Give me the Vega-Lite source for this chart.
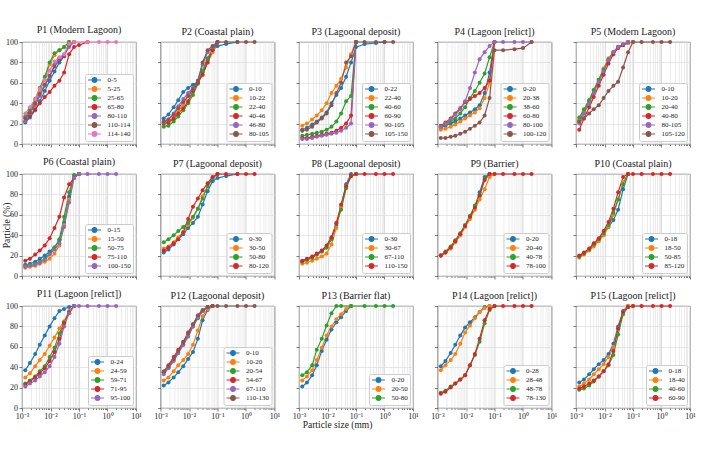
{
  "$schema": "https://vega.github.io/schema/vega-lite/v6.json",
  "background": "white",
  "padding": {"left": 1, "top": 24, "right": 5, "bottom": 5},
  "columns": 5,
  "spacing": {"row": 30, "column": 24.5},
  "bounds": "flush",
  "resolve": {"scale": {"color": "independent"}},
  "concat": [
    {
      "title": "P1 (Modern Lagoon)",
      "data": {"values": [
        {"s":"0-5","x":0.0013,"y":21},{"s":"0-5","x":0.0019,"y":26},{"s":"0-5","x":0.0029,"y":33},{"s":"0-5","x":0.0042,"y":42},{"s":"0-5","x":0.0063,"y":52},{"s":"0-5","x":0.0093,"y":62},{"s":"0-5","x":0.0138,"y":71},{"s":"0-5","x":0.0205,"y":80},{"s":"0-5","x":0.03,"y":86},{"s":"0-5","x":0.045,"y":100},
        {"s":"5-25","x":0.0013,"y":26},{"s":"5-25","x":0.0019,"y":33},{"s":"5-25","x":0.0029,"y":42},{"s":"5-25","x":0.0042,"y":52},{"s":"5-25","x":0.0063,"y":63},{"s":"5-25","x":0.0093,"y":78},{"s":"5-25","x":0.0138,"y":87},{"s":"5-25","x":0.0205,"y":92},{"s":"5-25","x":0.03,"y":95},{"s":"5-25","x":0.045,"y":100},
        {"s":"25-65","x":0.0013,"y":27},{"s":"25-65","x":0.0019,"y":34},{"s":"25-65","x":0.0029,"y":44},{"s":"25-65","x":0.0042,"y":55},{"s":"25-65","x":0.0063,"y":66},{"s":"25-65","x":0.0093,"y":80},{"s":"25-65","x":0.0138,"y":89},{"s":"25-65","x":0.0205,"y":92},{"s":"25-65","x":0.03,"y":95},{"s":"25-65","x":0.045,"y":100},
        {"s":"65-80","x":0.0013,"y":22},{"s":"65-80","x":0.0019,"y":28},{"s":"65-80","x":0.0029,"y":34},{"s":"65-80","x":0.0042,"y":40},{"s":"65-80","x":0.0063,"y":46},{"s":"65-80","x":0.0093,"y":51},{"s":"65-80","x":0.0138,"y":57},{"s":"65-80","x":0.0205,"y":62},{"s":"65-80","x":0.03,"y":70},{"s":"65-80","x":0.045,"y":88},{"s":"65-80","x":0.067,"y":95},{"s":"65-80","x":0.1,"y":97},{"s":"65-80","x":0.2,"y":100},
        {"s":"80-110","x":0.0013,"y":22},{"s":"80-110","x":0.0019,"y":30},{"s":"80-110","x":0.0029,"y":38},{"s":"80-110","x":0.0042,"y":47},{"s":"80-110","x":0.0063,"y":57},{"s":"80-110","x":0.0093,"y":66},{"s":"80-110","x":0.0138,"y":78},{"s":"80-110","x":0.0205,"y":84},{"s":"80-110","x":0.03,"y":88},{"s":"80-110","x":0.045,"y":95},{"s":"80-110","x":0.067,"y":100},
        {"s":"110-114","x":0.0013,"y":25},{"s":"110-114","x":0.0019,"y":31},{"s":"110-114","x":0.0029,"y":40},{"s":"110-114","x":0.0042,"y":49},{"s":"110-114","x":0.0063,"y":58},{"s":"110-114","x":0.0093,"y":67},{"s":"110-114","x":0.0138,"y":76},{"s":"110-114","x":0.0205,"y":82},{"s":"110-114","x":0.03,"y":86},{"s":"110-114","x":0.045,"y":97},{"s":"110-114","x":0.067,"y":100},
        {"s":"114-140","x":0.0013,"y":30},{"s":"114-140","x":0.0019,"y":36},{"s":"114-140","x":0.0029,"y":44},{"s":"114-140","x":0.0042,"y":54},{"s":"114-140","x":0.0063,"y":63},{"s":"114-140","x":0.0093,"y":72},{"s":"114-140","x":0.0138,"y":81},{"s":"114-140","x":0.0205,"y":85},{"s":"114-140","x":0.03,"y":88},{"s":"114-140","x":0.045,"y":98},{"s":"114-140","x":0.067,"y":100},{"s":"114-140","x":0.2,"y":100},{"s":"114-140","x":0.5,"y":100},{"s":"114-140","x":1,"y":100},{"s":"114-140","x":2,"y":100}
      ]},
      "encoding": {
        "x": {"field": "x", "type": "quantitative", "title": null, "scale": {"type": "log", "domain": [0.001, 10]},
          "axis": {"values": [0.001,0.002,0.003,0.004,0.005,0.006,0.007,0.008,0.009,0.01,0.02,0.03,0.04,0.05,0.06,0.07,0.08,0.09,0.1,0.2,0.3,0.4,0.5,0.6,0.7,0.8,0.9,1,2,3,4,5,6,7,8,9,10], "labels": false,
            "gridColor": {"condition": {"test": "abs(log(datum.value)/LN10-round(log(datum.value)/LN10))<0.01", "value": "#cdcdcd"}, "value": "#e4e4e4"},
            "tickSize": {"condition": {"test": "abs(log(datum.value)/LN10-round(log(datum.value)/LN10))<0.01", "value": 3}, "value": 1.5}}},
        "y": {"field": "y", "type": "quantitative", "title": null, "scale": {"domain": [0, 100], "nice": false}, "axis": {"values": [0,20,40,60,80,100]}},
        "color": {"field": "s", "type": "nominal", "scale": {"domain": ["0-5","5-25","25-65","65-80","80-110","110-114","114-140"]}, "legend": {"title": null}}
      },
      "layer": [{"mark": "line"}, {"mark": "point"}]
    },
    {
      "title": "P2 (Coastal plain)",
      "data": {"values": [
        {"s":"0-10","x":0.0013,"y":25},{"s":"0-10","x":0.0019,"y":29},{"s":"0-10","x":0.0029,"y":36},{"s":"0-10","x":0.0042,"y":43},{"s":"0-10","x":0.0063,"y":51},{"s":"0-10","x":0.0093,"y":55},{"s":"0-10","x":0.0138,"y":58},{"s":"0-10","x":0.0205,"y":61},{"s":"0-10","x":0.03,"y":70},{"s":"0-10","x":0.045,"y":82},{"s":"0-10","x":0.067,"y":92},{"s":"0-10","x":0.1,"y":96},{"s":"0-10","x":0.2,"y":98},{"s":"0-10","x":0.5,"y":100},
        {"s":"10-22","x":0.0013,"y":20},{"s":"10-22","x":0.0019,"y":22},{"s":"10-22","x":0.0029,"y":26},{"s":"10-22","x":0.0042,"y":32},{"s":"10-22","x":0.0063,"y":39},{"s":"10-22","x":0.0093,"y":47},{"s":"10-22","x":0.0138,"y":54},{"s":"10-22","x":0.0205,"y":61},{"s":"10-22","x":0.03,"y":68},{"s":"10-22","x":0.045,"y":80},{"s":"10-22","x":0.067,"y":90},{"s":"10-22","x":0.1,"y":100},
        {"s":"22-40","x":0.0013,"y":17},{"s":"22-40","x":0.0019,"y":18},{"s":"22-40","x":0.0029,"y":22},{"s":"22-40","x":0.0042,"y":27},{"s":"22-40","x":0.0063,"y":33},{"s":"22-40","x":0.0093,"y":40},{"s":"22-40","x":0.0138,"y":48},{"s":"22-40","x":0.0205,"y":59},{"s":"22-40","x":0.03,"y":72},{"s":"22-40","x":0.045,"y":84},{"s":"22-40","x":0.067,"y":93},{"s":"22-40","x":0.1,"y":100},
        {"s":"40-46","x":0.0013,"y":20},{"s":"40-46","x":0.0019,"y":21},{"s":"40-46","x":0.0029,"y":25},{"s":"40-46","x":0.0042,"y":30},{"s":"40-46","x":0.0063,"y":35},{"s":"40-46","x":0.0093,"y":42},{"s":"40-46","x":0.0138,"y":52},{"s":"40-46","x":0.0205,"y":60},{"s":"40-46","x":0.03,"y":68},{"s":"40-46","x":0.045,"y":80},{"s":"40-46","x":0.067,"y":92},{"s":"40-46","x":0.1,"y":100},
        {"s":"46-80","x":0.0013,"y":21},{"s":"46-80","x":0.0019,"y":24},{"s":"46-80","x":0.0029,"y":30},{"s":"46-80","x":0.0042,"y":37},{"s":"46-80","x":0.0063,"y":44},{"s":"46-80","x":0.0093,"y":50},{"s":"46-80","x":0.0138,"y":55},{"s":"46-80","x":0.0205,"y":62},{"s":"46-80","x":0.03,"y":78},{"s":"46-80","x":0.045,"y":90},{"s":"46-80","x":0.067,"y":95},{"s":"46-80","x":0.1,"y":100},
        {"s":"80-105","x":0.0013,"y":22},{"s":"80-105","x":0.0019,"y":24},{"s":"80-105","x":0.0029,"y":29},{"s":"80-105","x":0.0042,"y":35},{"s":"80-105","x":0.0063,"y":41},{"s":"80-105","x":0.0093,"y":47},{"s":"80-105","x":0.0138,"y":54},{"s":"80-105","x":0.0205,"y":62},{"s":"80-105","x":0.03,"y":80},{"s":"80-105","x":0.045,"y":92},{"s":"80-105","x":0.067,"y":96},{"s":"80-105","x":0.1,"y":100},{"s":"80-105","x":0.2,"y":100},{"s":"80-105","x":0.5,"y":100},{"s":"80-105","x":1,"y":100},{"s":"80-105","x":2,"y":100}
      ]},
      "encoding": {
        "x": {"field": "x", "type": "quantitative", "title": null, "scale": {"type": "log", "domain": [0.001, 10]},
          "axis": {"values": [0.001,0.002,0.003,0.004,0.005,0.006,0.007,0.008,0.009,0.01,0.02,0.03,0.04,0.05,0.06,0.07,0.08,0.09,0.1,0.2,0.3,0.4,0.5,0.6,0.7,0.8,0.9,1,2,3,4,5,6,7,8,9,10], "labels": false,
            "gridColor": {"condition": {"test": "abs(log(datum.value)/LN10-round(log(datum.value)/LN10))<0.01", "value": "#cdcdcd"}, "value": "#e4e4e4"},
            "tickSize": {"condition": {"test": "abs(log(datum.value)/LN10-round(log(datum.value)/LN10))<0.01", "value": 3}, "value": 1.5}}},
        "y": {"field": "y", "type": "quantitative", "title": null, "scale": {"domain": [0, 100], "nice": false}, "axis": {"values": [0,20,40,60,80,100], "labels": false}},
        "color": {"field": "s", "type": "nominal", "scale": {"domain": ["0-10","10-22","22-40","40-46","46-80","80-105"]}, "legend": {"title": null}}
      },
      "layer": [{"mark": "line"}, {"mark": "point"}]
    },
    {
      "title": "P3 (Lagoonal deposit)",
      "data": {"values": [
        {"s":"0-22","x":0.0013,"y":14},{"s":"0-22","x":0.0019,"y":16},{"s":"0-22","x":0.0029,"y":19},{"s":"0-22","x":0.0042,"y":22},{"s":"0-22","x":0.0063,"y":26},{"s":"0-22","x":0.0093,"y":31},{"s":"0-22","x":0.0138,"y":40},{"s":"0-22","x":0.0205,"y":48},{"s":"0-22","x":0.03,"y":55},{"s":"0-22","x":0.045,"y":66},{"s":"0-22","x":0.067,"y":80},{"s":"0-22","x":0.1,"y":95},{"s":"0-22","x":0.2,"y":98},{"s":"0-22","x":0.5,"y":99},{"s":"0-22","x":1,"y":100},
        {"s":"22-40","x":0.0013,"y":18},{"s":"22-40","x":0.0019,"y":20},{"s":"22-40","x":0.0029,"y":24},{"s":"22-40","x":0.0042,"y":28},{"s":"22-40","x":0.0063,"y":33},{"s":"22-40","x":0.0093,"y":40},{"s":"22-40","x":0.0138,"y":50},{"s":"22-40","x":0.0205,"y":57},{"s":"22-40","x":0.03,"y":64},{"s":"22-40","x":0.045,"y":75},{"s":"22-40","x":0.067,"y":88},{"s":"22-40","x":0.1,"y":100},
        {"s":"40-60","x":0.0013,"y":8},{"s":"40-60","x":0.0019,"y":9},{"s":"40-60","x":0.0029,"y":10},{"s":"40-60","x":0.0042,"y":11},{"s":"40-60","x":0.0063,"y":12},{"s":"40-60","x":0.0093,"y":14},{"s":"40-60","x":0.0138,"y":17},{"s":"40-60","x":0.0205,"y":22},{"s":"40-60","x":0.03,"y":30},{"s":"40-60","x":0.045,"y":42},{"s":"40-60","x":0.067,"y":47},{"s":"40-60","x":0.1,"y":100},
        {"s":"60-90","x":0.0013,"y":6},{"s":"60-90","x":0.0019,"y":6},{"s":"60-90","x":0.0029,"y":7},{"s":"60-90","x":0.0042,"y":8},{"s":"60-90","x":0.0063,"y":9},{"s":"60-90","x":0.0093,"y":10},{"s":"60-90","x":0.0138,"y":11},{"s":"60-90","x":0.0205,"y":13},{"s":"60-90","x":0.03,"y":16},{"s":"60-90","x":0.045,"y":20},{"s":"60-90","x":0.067,"y":28},{"s":"60-90","x":0.1,"y":100},
        {"s":"90-105","x":0.0013,"y":5},{"s":"90-105","x":0.0019,"y":5},{"s":"90-105","x":0.0029,"y":6},{"s":"90-105","x":0.0042,"y":7},{"s":"90-105","x":0.0063,"y":8},{"s":"90-105","x":0.0093,"y":9},{"s":"90-105","x":0.0138,"y":10},{"s":"90-105","x":0.0205,"y":11},{"s":"90-105","x":0.03,"y":13},{"s":"90-105","x":0.045,"y":16},{"s":"90-105","x":0.067,"y":20},{"s":"90-105","x":0.1,"y":100},
        {"s":"105-150","x":0.0013,"y":13},{"s":"105-150","x":0.0019,"y":14},{"s":"105-150","x":0.0029,"y":17},{"s":"105-150","x":0.0042,"y":21},{"s":"105-150","x":0.0063,"y":25},{"s":"105-150","x":0.0093,"y":30},{"s":"105-150","x":0.0138,"y":38},{"s":"105-150","x":0.0205,"y":50},{"s":"105-150","x":0.03,"y":60},{"s":"105-150","x":0.045,"y":80},{"s":"105-150","x":0.067,"y":86},{"s":"105-150","x":0.1,"y":100},{"s":"105-150","x":0.2,"y":100},{"s":"105-150","x":0.5,"y":100},{"s":"105-150","x":1,"y":100},{"s":"105-150","x":2,"y":100}
      ]},
      "encoding": {
        "x": {"field": "x", "type": "quantitative", "title": null, "scale": {"type": "log", "domain": [0.001, 10]},
          "axis": {"values": [0.001,0.002,0.003,0.004,0.005,0.006,0.007,0.008,0.009,0.01,0.02,0.03,0.04,0.05,0.06,0.07,0.08,0.09,0.1,0.2,0.3,0.4,0.5,0.6,0.7,0.8,0.9,1,2,3,4,5,6,7,8,9,10], "labels": false,
            "gridColor": {"condition": {"test": "abs(log(datum.value)/LN10-round(log(datum.value)/LN10))<0.01", "value": "#cdcdcd"}, "value": "#e4e4e4"},
            "tickSize": {"condition": {"test": "abs(log(datum.value)/LN10-round(log(datum.value)/LN10))<0.01", "value": 3}, "value": 1.5}}},
        "y": {"field": "y", "type": "quantitative", "title": null, "scale": {"domain": [0, 100], "nice": false}, "axis": {"values": [0,20,40,60,80,100], "labels": false}},
        "color": {"field": "s", "type": "nominal", "scale": {"domain": ["0-22","22-40","40-60","60-90","90-105","105-150"]}, "legend": {"title": null}}
      },
      "layer": [{"mark": "line"}, {"mark": "point"}]
    },
    {
      "title": "P4 (Lagoon [relict])",
      "data": {"values": [
        {"s":"0-20","x":0.0013,"y":16},{"s":"0-20","x":0.0019,"y":18},{"s":"0-20","x":0.0029,"y":20},{"s":"0-20","x":0.0042,"y":22},{"s":"0-20","x":0.0063,"y":25},{"s":"0-20","x":0.0093,"y":28},{"s":"0-20","x":0.0138,"y":31},{"s":"0-20","x":0.0205,"y":34},{"s":"0-20","x":0.03,"y":38},{"s":"0-20","x":0.045,"y":50},{"s":"0-20","x":0.067,"y":70},{"s":"0-20","x":0.1,"y":100},
        {"s":"20-38","x":0.0013,"y":14},{"s":"20-38","x":0.0019,"y":15},{"s":"20-38","x":0.0029,"y":17},{"s":"20-38","x":0.0042,"y":19},{"s":"20-38","x":0.0063,"y":22},{"s":"20-38","x":0.0093,"y":25},{"s":"20-38","x":0.0138,"y":28},{"s":"20-38","x":0.0205,"y":31},{"s":"20-38","x":0.03,"y":35},{"s":"20-38","x":0.045,"y":45},{"s":"20-38","x":0.067,"y":60},{"s":"20-38","x":0.1,"y":100},
        {"s":"38-60","x":0.0013,"y":17},{"s":"38-60","x":0.0019,"y":19},{"s":"38-60","x":0.0029,"y":22},{"s":"38-60","x":0.0042,"y":25},{"s":"38-60","x":0.0063,"y":30},{"s":"38-60","x":0.0093,"y":36},{"s":"38-60","x":0.0138,"y":45},{"s":"38-60","x":0.0205,"y":52},{"s":"38-60","x":0.03,"y":60},{"s":"38-60","x":0.045,"y":69},{"s":"38-60","x":0.067,"y":85},{"s":"38-60","x":0.1,"y":100},
        {"s":"60-80","x":0.0013,"y":18},{"s":"60-80","x":0.0019,"y":21},{"s":"60-80","x":0.0029,"y":25},{"s":"60-80","x":0.0042,"y":30},{"s":"60-80","x":0.0063,"y":35},{"s":"60-80","x":0.0093,"y":41},{"s":"60-80","x":0.0138,"y":44},{"s":"60-80","x":0.0205,"y":47},{"s":"60-80","x":0.03,"y":50},{"s":"60-80","x":0.045,"y":55},{"s":"60-80","x":0.067,"y":62},{"s":"60-80","x":0.1,"y":100},
        {"s":"80-100","x":0.0013,"y":17},{"s":"80-100","x":0.0019,"y":20},{"s":"80-100","x":0.0029,"y":24},{"s":"80-100","x":0.0042,"y":29},{"s":"80-100","x":0.0063,"y":34},{"s":"80-100","x":0.0093,"y":42},{"s":"80-100","x":0.0138,"y":55},{"s":"80-100","x":0.0205,"y":70},{"s":"80-100","x":0.03,"y":83},{"s":"80-100","x":0.045,"y":90},{"s":"80-100","x":0.067,"y":96},{"s":"80-100","x":0.1,"y":100},{"s":"80-100","x":0.2,"y":100},{"s":"80-100","x":0.5,"y":100},{"s":"80-100","x":1,"y":100},{"s":"80-100","x":2,"y":100},
        {"s":"100-120","x":0.0013,"y":6},{"s":"100-120","x":0.0019,"y":6},{"s":"100-120","x":0.0029,"y":7},{"s":"100-120","x":0.0042,"y":8},{"s":"100-120","x":0.0063,"y":10},{"s":"100-120","x":0.0093,"y":12},{"s":"100-120","x":0.0138,"y":15},{"s":"100-120","x":0.0205,"y":18},{"s":"100-120","x":0.03,"y":21},{"s":"100-120","x":0.045,"y":28},{"s":"100-120","x":0.067,"y":45},{"s":"100-120","x":0.1,"y":92},{"s":"100-120","x":0.2,"y":92},{"s":"100-120","x":0.5,"y":93},{"s":"100-120","x":1,"y":94},{"s":"100-120","x":2,"y":100}
      ]},
      "encoding": {
        "x": {"field": "x", "type": "quantitative", "title": null, "scale": {"type": "log", "domain": [0.001, 10]},
          "axis": {"values": [0.001,0.002,0.003,0.004,0.005,0.006,0.007,0.008,0.009,0.01,0.02,0.03,0.04,0.05,0.06,0.07,0.08,0.09,0.1,0.2,0.3,0.4,0.5,0.6,0.7,0.8,0.9,1,2,3,4,5,6,7,8,9,10], "labels": false,
            "gridColor": {"condition": {"test": "abs(log(datum.value)/LN10-round(log(datum.value)/LN10))<0.01", "value": "#cdcdcd"}, "value": "#e4e4e4"},
            "tickSize": {"condition": {"test": "abs(log(datum.value)/LN10-round(log(datum.value)/LN10))<0.01", "value": 3}, "value": 1.5}}},
        "y": {"field": "y", "type": "quantitative", "title": null, "scale": {"domain": [0, 100], "nice": false}, "axis": {"values": [0,20,40,60,80,100], "labels": false}},
        "color": {"field": "s", "type": "nominal", "scale": {"domain": ["0-20","20-38","38-60","60-80","80-100","100-120"]}, "legend": {"title": null}}
      },
      "layer": [{"mark": "line"}, {"mark": "point"}]
    },
    {
      "title": "P5 (Modern Lagoon)",
      "data": {"values": [
        {"s":"0-10","x":0.0013,"y":22},{"s":"0-10","x":0.0019,"y":32},{"s":"0-10","x":0.0029,"y":42},{"s":"0-10","x":0.0042,"y":52},{"s":"0-10","x":0.0063,"y":62},{"s":"0-10","x":0.0093,"y":72},{"s":"0-10","x":0.0138,"y":82},{"s":"0-10","x":0.0205,"y":90},{"s":"0-10","x":0.03,"y":95},{"s":"0-10","x":0.045,"y":97},{"s":"0-10","x":0.067,"y":99},{"s":"0-10","x":0.1,"y":100},
        {"s":"10-20","x":0.0013,"y":24},{"s":"10-20","x":0.0019,"y":33},{"s":"10-20","x":0.0029,"y":43},{"s":"10-20","x":0.0042,"y":53},{"s":"10-20","x":0.0063,"y":63},{"s":"10-20","x":0.0093,"y":74},{"s":"10-20","x":0.0138,"y":84},{"s":"10-20","x":0.0205,"y":90},{"s":"10-20","x":0.03,"y":94},{"s":"10-20","x":0.045,"y":97},{"s":"10-20","x":0.067,"y":99},{"s":"10-20","x":0.1,"y":100},
        {"s":"20-40","x":0.0013,"y":26},{"s":"20-40","x":0.0019,"y":34},{"s":"20-40","x":0.0029,"y":43},{"s":"20-40","x":0.0042,"y":53},{"s":"20-40","x":0.0063,"y":63},{"s":"20-40","x":0.0093,"y":73},{"s":"20-40","x":0.0138,"y":83},{"s":"20-40","x":0.0205,"y":90},{"s":"20-40","x":0.03,"y":95},{"s":"20-40","x":0.045,"y":97},{"s":"20-40","x":0.067,"y":100},
        {"s":"40-80","x":0.0013,"y":14},{"s":"40-80","x":0.0019,"y":25},{"s":"40-80","x":0.0029,"y":36},{"s":"40-80","x":0.0042,"y":46},{"s":"40-80","x":0.0063,"y":57},{"s":"40-80","x":0.0093,"y":68},{"s":"40-80","x":0.0138,"y":79},{"s":"40-80","x":0.0205,"y":88},{"s":"40-80","x":0.03,"y":94},{"s":"40-80","x":0.045,"y":97},{"s":"40-80","x":0.067,"y":100},
        {"s":"80-105","x":0.0013,"y":20},{"s":"80-105","x":0.0019,"y":30},{"s":"80-105","x":0.0029,"y":40},{"s":"80-105","x":0.0042,"y":50},{"s":"80-105","x":0.0063,"y":61},{"s":"80-105","x":0.0093,"y":71},{"s":"80-105","x":0.0138,"y":82},{"s":"80-105","x":0.0205,"y":90},{"s":"80-105","x":0.03,"y":95},{"s":"80-105","x":0.045,"y":98},{"s":"80-105","x":0.067,"y":100},
        {"s":"105-120","x":0.0013,"y":22},{"s":"105-120","x":0.0019,"y":25},{"s":"105-120","x":0.0029,"y":30},{"s":"105-120","x":0.0042,"y":34},{"s":"105-120","x":0.0063,"y":38},{"s":"105-120","x":0.0093,"y":45},{"s":"105-120","x":0.0138,"y":52},{"s":"105-120","x":0.0205,"y":57},{"s":"105-120","x":0.03,"y":61},{"s":"105-120","x":0.045,"y":75},{"s":"105-120","x":0.067,"y":90},{"s":"105-120","x":0.1,"y":100},{"s":"105-120","x":0.2,"y":100},{"s":"105-120","x":0.5,"y":100},{"s":"105-120","x":1,"y":100},{"s":"105-120","x":2,"y":100}
      ]},
      "encoding": {
        "x": {"field": "x", "type": "quantitative", "title": null, "scale": {"type": "log", "domain": [0.001, 10]},
          "axis": {"values": [0.001,0.002,0.003,0.004,0.005,0.006,0.007,0.008,0.009,0.01,0.02,0.03,0.04,0.05,0.06,0.07,0.08,0.09,0.1,0.2,0.3,0.4,0.5,0.6,0.7,0.8,0.9,1,2,3,4,5,6,7,8,9,10], "labels": false,
            "gridColor": {"condition": {"test": "abs(log(datum.value)/LN10-round(log(datum.value)/LN10))<0.01", "value": "#cdcdcd"}, "value": "#e4e4e4"},
            "tickSize": {"condition": {"test": "abs(log(datum.value)/LN10-round(log(datum.value)/LN10))<0.01", "value": 3}, "value": 1.5}}},
        "y": {"field": "y", "type": "quantitative", "title": null, "scale": {"domain": [0, 100], "nice": false}, "axis": {"values": [0,20,40,60,80,100], "labels": false}},
        "color": {"field": "s", "type": "nominal", "scale": {"domain": ["0-10","10-20","20-40","40-80","80-105","105-120"]}, "legend": {"title": null}}
      },
      "layer": [{"mark": "line"}, {"mark": "point"}]
    },
    {
      "title": "P6 (Coastal plain)",
      "data": {"values": [
        {"s":"0-15","x":0.0013,"y":11},{"s":"0-15","x":0.0019,"y":12},{"s":"0-15","x":0.0029,"y":14},{"s":"0-15","x":0.0042,"y":17},{"s":"0-15","x":0.0063,"y":20},{"s":"0-15","x":0.0093,"y":24},{"s":"0-15","x":0.0138,"y":28},{"s":"0-15","x":0.0205,"y":35},{"s":"0-15","x":0.03,"y":52},{"s":"0-15","x":0.045,"y":78},{"s":"0-15","x":0.067,"y":98},{"s":"0-15","x":0.1,"y":100},
        {"s":"15-50","x":0.0013,"y":8},{"s":"15-50","x":0.0019,"y":9},{"s":"15-50","x":0.0029,"y":10},{"s":"15-50","x":0.0042,"y":12},{"s":"15-50","x":0.0063,"y":14},{"s":"15-50","x":0.0093,"y":17},{"s":"15-50","x":0.0138,"y":22},{"s":"15-50","x":0.0205,"y":30},{"s":"15-50","x":0.03,"y":50},{"s":"15-50","x":0.045,"y":75},{"s":"15-50","x":0.067,"y":97},{"s":"15-50","x":0.1,"y":100},
        {"s":"50-75","x":0.0013,"y":10},{"s":"50-75","x":0.0019,"y":11},{"s":"50-75","x":0.0029,"y":12},{"s":"50-75","x":0.0042,"y":14},{"s":"50-75","x":0.0063,"y":17},{"s":"50-75","x":0.0093,"y":22},{"s":"50-75","x":0.0138,"y":28},{"s":"50-75","x":0.0205,"y":36},{"s":"50-75","x":0.03,"y":58},{"s":"50-75","x":0.045,"y":82},{"s":"50-75","x":0.067,"y":99},{"s":"50-75","x":0.1,"y":100},
        {"s":"75-110","x":0.0013,"y":15},{"s":"75-110","x":0.0019,"y":17},{"s":"75-110","x":0.0029,"y":21},{"s":"75-110","x":0.0042,"y":25},{"s":"75-110","x":0.0063,"y":30},{"s":"75-110","x":0.0093,"y":37},{"s":"75-110","x":0.0138,"y":47},{"s":"75-110","x":0.0205,"y":58},{"s":"75-110","x":0.03,"y":77},{"s":"75-110","x":0.045,"y":90},{"s":"75-110","x":0.067,"y":96},{"s":"75-110","x":0.1,"y":100},
        {"s":"100-150","x":0.0013,"y":9},{"s":"100-150","x":0.0019,"y":10},{"s":"100-150","x":0.0029,"y":11},{"s":"100-150","x":0.0042,"y":13},{"s":"100-150","x":0.0063,"y":16},{"s":"100-150","x":0.0093,"y":21},{"s":"100-150","x":0.0138,"y":26},{"s":"100-150","x":0.0205,"y":32},{"s":"100-150","x":0.03,"y":48},{"s":"100-150","x":0.045,"y":72},{"s":"100-150","x":0.067,"y":96},{"s":"100-150","x":0.1,"y":100},{"s":"100-150","x":0.2,"y":100},{"s":"100-150","x":0.5,"y":100},{"s":"100-150","x":1,"y":100},{"s":"100-150","x":2,"y":100}
      ]},
      "encoding": {
        "x": {"field": "x", "type": "quantitative", "title": null, "scale": {"type": "log", "domain": [0.001, 10]},
          "axis": {"values": [0.001,0.002,0.003,0.004,0.005,0.006,0.007,0.008,0.009,0.01,0.02,0.03,0.04,0.05,0.06,0.07,0.08,0.09,0.1,0.2,0.3,0.4,0.5,0.6,0.7,0.8,0.9,1,2,3,4,5,6,7,8,9,10], "labels": false,
            "gridColor": {"condition": {"test": "abs(log(datum.value)/LN10-round(log(datum.value)/LN10))<0.01", "value": "#cdcdcd"}, "value": "#e4e4e4"},
            "tickSize": {"condition": {"test": "abs(log(datum.value)/LN10-round(log(datum.value)/LN10))<0.01", "value": 3}, "value": 1.5}}},
        "y": {"field": "y", "type": "quantitative", "title": "Particle (%)", "scale": {"domain": [0, 100], "nice": false}, "axis": {"values": [0,20,40,60,80,100], "titlePadding": -6}},
        "color": {"field": "s", "type": "nominal", "scale": {"domain": ["0-15","15-50","50-75","75-110","100-150"]}, "legend": {"title": null}}
      },
      "layer": [{"mark": "line"}, {"mark": "point"}]
    },
    {
      "title": "P7 (Lagoonal deposit)",
      "data": {"values": [
        {"s":"0-30","x":0.0013,"y":23},{"s":"0-30","x":0.0019,"y":26},{"s":"0-30","x":0.0029,"y":31},{"s":"0-30","x":0.0042,"y":36},{"s":"0-30","x":0.0063,"y":41},{"s":"0-30","x":0.0093,"y":47},{"s":"0-30","x":0.0138,"y":52},{"s":"0-30","x":0.0205,"y":58},{"s":"0-30","x":0.03,"y":70},{"s":"0-30","x":0.045,"y":83},{"s":"0-30","x":0.067,"y":93},{"s":"0-30","x":0.1,"y":96},{"s":"0-30","x":0.2,"y":98},{"s":"0-30","x":0.5,"y":100},
        {"s":"30-50","x":0.0013,"y":27},{"s":"30-50","x":0.0019,"y":29},{"s":"30-50","x":0.0029,"y":33},{"s":"30-50","x":0.0042,"y":38},{"s":"30-50","x":0.0063,"y":43},{"s":"30-50","x":0.0093,"y":50},{"s":"30-50","x":0.0138,"y":57},{"s":"30-50","x":0.0205,"y":66},{"s":"30-50","x":0.03,"y":78},{"s":"30-50","x":0.045,"y":88},{"s":"30-50","x":0.067,"y":96},{"s":"30-50","x":0.1,"y":100},
        {"s":"50-80","x":0.0013,"y":33},{"s":"50-80","x":0.0019,"y":36},{"s":"50-80","x":0.0029,"y":40},{"s":"50-80","x":0.0042,"y":44},{"s":"50-80","x":0.0063,"y":48},{"s":"50-80","x":0.0093,"y":52},{"s":"50-80","x":0.0138,"y":58},{"s":"50-80","x":0.0205,"y":66},{"s":"50-80","x":0.03,"y":76},{"s":"50-80","x":0.045,"y":88},{"s":"50-80","x":0.067,"y":96},{"s":"50-80","x":0.1,"y":100},
        {"s":"80-120","x":0.0013,"y":25},{"s":"80-120","x":0.0019,"y":28},{"s":"80-120","x":0.0029,"y":32},{"s":"80-120","x":0.0042,"y":36},{"s":"80-120","x":0.0063,"y":43},{"s":"80-120","x":0.0093,"y":56},{"s":"80-120","x":0.0138,"y":68},{"s":"80-120","x":0.0205,"y":76},{"s":"80-120","x":0.03,"y":84},{"s":"80-120","x":0.045,"y":91},{"s":"80-120","x":0.067,"y":97},{"s":"80-120","x":0.1,"y":100},{"s":"80-120","x":0.2,"y":100},{"s":"80-120","x":0.5,"y":100},{"s":"80-120","x":1,"y":100},{"s":"80-120","x":2,"y":100}
      ]},
      "encoding": {
        "x": {"field": "x", "type": "quantitative", "title": null, "scale": {"type": "log", "domain": [0.001, 10]},
          "axis": {"values": [0.001,0.002,0.003,0.004,0.005,0.006,0.007,0.008,0.009,0.01,0.02,0.03,0.04,0.05,0.06,0.07,0.08,0.09,0.1,0.2,0.3,0.4,0.5,0.6,0.7,0.8,0.9,1,2,3,4,5,6,7,8,9,10], "labels": false,
            "gridColor": {"condition": {"test": "abs(log(datum.value)/LN10-round(log(datum.value)/LN10))<0.01", "value": "#cdcdcd"}, "value": "#e4e4e4"},
            "tickSize": {"condition": {"test": "abs(log(datum.value)/LN10-round(log(datum.value)/LN10))<0.01", "value": 3}, "value": 1.5}}},
        "y": {"field": "y", "type": "quantitative", "title": null, "scale": {"domain": [0, 100], "nice": false}, "axis": {"values": [0,20,40,60,80,100], "labels": false}},
        "color": {"field": "s", "type": "nominal", "scale": {"domain": ["0-30","30-50","50-80","80-120"]}, "legend": {"title": null}}
      },
      "layer": [{"mark": "line"}, {"mark": "point"}]
    },
    {
      "title": "P8 (Lagoonal deposit)",
      "data": {"values": [
        {"s":"0-30","x":0.0013,"y":14},{"s":"0-30","x":0.0019,"y":16},{"s":"0-30","x":0.0029,"y":18},{"s":"0-30","x":0.0042,"y":21},{"s":"0-30","x":0.0063,"y":24},{"s":"0-30","x":0.0093,"y":28},{"s":"0-30","x":0.0138,"y":37},{"s":"0-30","x":0.0205,"y":50},{"s":"0-30","x":0.03,"y":68},{"s":"0-30","x":0.045,"y":90},{"s":"0-30","x":0.067,"y":100},
        {"s":"30-67","x":0.0013,"y":12},{"s":"30-67","x":0.0019,"y":13},{"s":"30-67","x":0.0029,"y":15},{"s":"30-67","x":0.0042,"y":17},{"s":"30-67","x":0.0063,"y":19},{"s":"30-67","x":0.0093,"y":22},{"s":"30-67","x":0.0138,"y":31},{"s":"30-67","x":0.0205,"y":47},{"s":"30-67","x":0.03,"y":67},{"s":"30-67","x":0.045,"y":88},{"s":"30-67","x":0.067,"y":98},{"s":"30-67","x":0.1,"y":100},
        {"s":"67-110","x":0.0013,"y":14},{"s":"67-110","x":0.0019,"y":16},{"s":"67-110","x":0.0029,"y":18},{"s":"67-110","x":0.0042,"y":21},{"s":"67-110","x":0.0063,"y":24},{"s":"67-110","x":0.0093,"y":28},{"s":"67-110","x":0.0138,"y":36},{"s":"67-110","x":0.0205,"y":52},{"s":"67-110","x":0.03,"y":65},{"s":"67-110","x":0.045,"y":86},{"s":"67-110","x":0.067,"y":98},{"s":"67-110","x":0.1,"y":100},
        {"s":"110-150","x":0.0013,"y":15},{"s":"110-150","x":0.0019,"y":17},{"s":"110-150","x":0.0029,"y":19},{"s":"110-150","x":0.0042,"y":22},{"s":"110-150","x":0.0063,"y":25},{"s":"110-150","x":0.0093,"y":30},{"s":"110-150","x":0.0138,"y":38},{"s":"110-150","x":0.0205,"y":52},{"s":"110-150","x":0.03,"y":70},{"s":"110-150","x":0.045,"y":88},{"s":"110-150","x":0.067,"y":98},{"s":"110-150","x":0.1,"y":100},{"s":"110-150","x":0.2,"y":100},{"s":"110-150","x":0.5,"y":100},{"s":"110-150","x":1,"y":100},{"s":"110-150","x":2,"y":100}
      ]},
      "encoding": {
        "x": {"field": "x", "type": "quantitative", "title": null, "scale": {"type": "log", "domain": [0.001, 10]},
          "axis": {"values": [0.001,0.002,0.003,0.004,0.005,0.006,0.007,0.008,0.009,0.01,0.02,0.03,0.04,0.05,0.06,0.07,0.08,0.09,0.1,0.2,0.3,0.4,0.5,0.6,0.7,0.8,0.9,1,2,3,4,5,6,7,8,9,10], "labels": false,
            "gridColor": {"condition": {"test": "abs(log(datum.value)/LN10-round(log(datum.value)/LN10))<0.01", "value": "#cdcdcd"}, "value": "#e4e4e4"},
            "tickSize": {"condition": {"test": "abs(log(datum.value)/LN10-round(log(datum.value)/LN10))<0.01", "value": 3}, "value": 1.5}}},
        "y": {"field": "y", "type": "quantitative", "title": null, "scale": {"domain": [0, 100], "nice": false}, "axis": {"values": [0,20,40,60,80,100], "labels": false}},
        "color": {"field": "s", "type": "nominal", "scale": {"domain": ["0-30","30-67","67-110","110-150"]}, "legend": {"title": null}}
      },
      "layer": [{"mark": "line"}, {"mark": "point"}]
    },
    {
      "title": "P9 (Barrier)",
      "data": {"values": [
        {"s":"0-20","x":0.0013,"y":20},{"s":"0-20","x":0.0019,"y":23},{"s":"0-20","x":0.0029,"y":28},{"s":"0-20","x":0.0042,"y":34},{"s":"0-20","x":0.0063,"y":41},{"s":"0-20","x":0.0093,"y":49},{"s":"0-20","x":0.0138,"y":58},{"s":"0-20","x":0.0205,"y":68},{"s":"0-20","x":0.03,"y":82},{"s":"0-20","x":0.045,"y":97},{"s":"0-20","x":0.067,"y":100},
        {"s":"20-40","x":0.0013,"y":20},{"s":"20-40","x":0.0019,"y":23},{"s":"20-40","x":0.0029,"y":27},{"s":"20-40","x":0.0042,"y":33},{"s":"20-40","x":0.0063,"y":40},{"s":"20-40","x":0.0093,"y":48},{"s":"20-40","x":0.0138,"y":56},{"s":"20-40","x":0.0205,"y":65},{"s":"20-40","x":0.03,"y":75},{"s":"20-40","x":0.045,"y":85},{"s":"20-40","x":0.067,"y":97},{"s":"20-40","x":0.1,"y":100},
        {"s":"40-78","x":0.0013,"y":20},{"s":"40-78","x":0.0019,"y":24},{"s":"40-78","x":0.0029,"y":29},{"s":"40-78","x":0.0042,"y":35},{"s":"40-78","x":0.0063,"y":42},{"s":"40-78","x":0.0093,"y":50},{"s":"40-78","x":0.0138,"y":59},{"s":"40-78","x":0.0205,"y":69},{"s":"40-78","x":0.03,"y":80},{"s":"40-78","x":0.045,"y":95},{"s":"40-78","x":0.067,"y":100},
        {"s":"78-100","x":0.0013,"y":20},{"s":"78-100","x":0.0019,"y":23},{"s":"78-100","x":0.0029,"y":28},{"s":"78-100","x":0.0042,"y":34},{"s":"78-100","x":0.0063,"y":41},{"s":"78-100","x":0.0093,"y":49},{"s":"78-100","x":0.0138,"y":58},{"s":"78-100","x":0.0205,"y":67},{"s":"78-100","x":0.03,"y":79},{"s":"78-100","x":0.045,"y":94},{"s":"78-100","x":0.067,"y":100},{"s":"78-100","x":0.1,"y":100},{"s":"78-100","x":0.2,"y":100},{"s":"78-100","x":0.5,"y":100},{"s":"78-100","x":1,"y":100},{"s":"78-100","x":2,"y":100}
      ]},
      "encoding": {
        "x": {"field": "x", "type": "quantitative", "title": null, "scale": {"type": "log", "domain": [0.001, 10]},
          "axis": {"values": [0.001,0.002,0.003,0.004,0.005,0.006,0.007,0.008,0.009,0.01,0.02,0.03,0.04,0.05,0.06,0.07,0.08,0.09,0.1,0.2,0.3,0.4,0.5,0.6,0.7,0.8,0.9,1,2,3,4,5,6,7,8,9,10], "labels": false,
            "gridColor": {"condition": {"test": "abs(log(datum.value)/LN10-round(log(datum.value)/LN10))<0.01", "value": "#cdcdcd"}, "value": "#e4e4e4"},
            "tickSize": {"condition": {"test": "abs(log(datum.value)/LN10-round(log(datum.value)/LN10))<0.01", "value": 3}, "value": 1.5}}},
        "y": {"field": "y", "type": "quantitative", "title": null, "scale": {"domain": [0, 100], "nice": false}, "axis": {"values": [0,20,40,60,80,100], "labels": false}},
        "color": {"field": "s", "type": "nominal", "scale": {"domain": ["0-20","20-40","40-78","78-100"]}, "legend": {"title": null}}
      },
      "layer": [{"mark": "line"}, {"mark": "point"}]
    },
    {
      "title": "P10 (Coastal plain)",
      "data": {"values": [
        {"s":"0-18","x":0.0013,"y":19},{"s":"0-18","x":0.0019,"y":22},{"s":"0-18","x":0.0029,"y":26},{"s":"0-18","x":0.0042,"y":31},{"s":"0-18","x":0.0063,"y":36},{"s":"0-18","x":0.0093,"y":41},{"s":"0-18","x":0.0138,"y":48},{"s":"0-18","x":0.0205,"y":55},{"s":"0-18","x":0.03,"y":65},{"s":"0-18","x":0.045,"y":85},{"s":"0-18","x":0.067,"y":100},
        {"s":"18-50","x":0.0013,"y":18},{"s":"18-50","x":0.0019,"y":21},{"s":"18-50","x":0.0029,"y":25},{"s":"18-50","x":0.0042,"y":29},{"s":"18-50","x":0.0063,"y":34},{"s":"18-50","x":0.0093,"y":40},{"s":"18-50","x":0.0138,"y":48},{"s":"18-50","x":0.0205,"y":60},{"s":"18-50","x":0.03,"y":75},{"s":"18-50","x":0.045,"y":92},{"s":"18-50","x":0.067,"y":100},
        {"s":"50-85","x":0.0013,"y":19},{"s":"50-85","x":0.0019,"y":22},{"s":"50-85","x":0.0029,"y":26},{"s":"50-85","x":0.0042,"y":31},{"s":"50-85","x":0.0063,"y":36},{"s":"50-85","x":0.0093,"y":42},{"s":"50-85","x":0.0138,"y":50},{"s":"50-85","x":0.0205,"y":62},{"s":"50-85","x":0.03,"y":75},{"s":"50-85","x":0.045,"y":90},{"s":"50-85","x":0.067,"y":100},
        {"s":"85-120","x":0.0013,"y":20},{"s":"85-120","x":0.0019,"y":23},{"s":"85-120","x":0.0029,"y":27},{"s":"85-120","x":0.0042,"y":32},{"s":"85-120","x":0.0063,"y":37},{"s":"85-120","x":0.0093,"y":44},{"s":"85-120","x":0.0138,"y":53},{"s":"85-120","x":0.0205,"y":66},{"s":"85-120","x":0.03,"y":82},{"s":"85-120","x":0.045,"y":97},{"s":"85-120","x":0.067,"y":100},{"s":"85-120","x":0.1,"y":100},{"s":"85-120","x":0.2,"y":100},{"s":"85-120","x":0.5,"y":100},{"s":"85-120","x":1,"y":100},{"s":"85-120","x":2,"y":100}
      ]},
      "encoding": {
        "x": {"field": "x", "type": "quantitative", "title": null, "scale": {"type": "log", "domain": [0.001, 10]},
          "axis": {"values": [0.001,0.002,0.003,0.004,0.005,0.006,0.007,0.008,0.009,0.01,0.02,0.03,0.04,0.05,0.06,0.07,0.08,0.09,0.1,0.2,0.3,0.4,0.5,0.6,0.7,0.8,0.9,1,2,3,4,5,6,7,8,9,10], "labels": false,
            "gridColor": {"condition": {"test": "abs(log(datum.value)/LN10-round(log(datum.value)/LN10))<0.01", "value": "#cdcdcd"}, "value": "#e4e4e4"},
            "tickSize": {"condition": {"test": "abs(log(datum.value)/LN10-round(log(datum.value)/LN10))<0.01", "value": 3}, "value": 1.5}}},
        "y": {"field": "y", "type": "quantitative", "title": null, "scale": {"domain": [0, 100], "nice": false}, "axis": {"values": [0,20,40,60,80,100], "labels": false}},
        "color": {"field": "s", "type": "nominal", "scale": {"domain": ["0-18","18-50","50-85","85-120"]}, "legend": {"title": null}}
      },
      "layer": [{"mark": "line"}, {"mark": "point"}]
    },
    {
      "title": "P11 (Lagoon [relict])",
      "data": {"values": [
        {"s":"0-24","x":0.0013,"y":37},{"s":"0-24","x":0.0019,"y":44},{"s":"0-24","x":0.0029,"y":53},{"s":"0-24","x":0.0042,"y":62},{"s":"0-24","x":0.0063,"y":71},{"s":"0-24","x":0.0093,"y":80},{"s":"0-24","x":0.0138,"y":88},{"s":"0-24","x":0.0205,"y":95},{"s":"0-24","x":0.03,"y":97},{"s":"0-24","x":0.045,"y":99},{"s":"0-24","x":0.067,"y":100},
        {"s":"24-59","x":0.0013,"y":30},{"s":"24-59","x":0.0019,"y":34},{"s":"24-59","x":0.0029,"y":41},{"s":"24-59","x":0.0042,"y":47},{"s":"24-59","x":0.0063,"y":53},{"s":"24-59","x":0.0093,"y":61},{"s":"24-59","x":0.0138,"y":69},{"s":"24-59","x":0.0205,"y":78},{"s":"24-59","x":0.03,"y":85},{"s":"24-59","x":0.045,"y":95},{"s":"24-59","x":0.067,"y":100},
        {"s":"59-71","x":0.0013,"y":24},{"s":"59-71","x":0.0019,"y":27},{"s":"59-71","x":0.0029,"y":31},{"s":"59-71","x":0.0042,"y":36},{"s":"59-71","x":0.0063,"y":41},{"s":"59-71","x":0.0093,"y":50},{"s":"59-71","x":0.0138,"y":59},{"s":"59-71","x":0.0205,"y":73},{"s":"59-71","x":0.03,"y":84},{"s":"59-71","x":0.045,"y":93},{"s":"59-71","x":0.067,"y":100},
        {"s":"71-95","x":0.0013,"y":23},{"s":"71-95","x":0.0019,"y":26},{"s":"71-95","x":0.0029,"y":30},{"s":"71-95","x":0.0042,"y":34},{"s":"71-95","x":0.0063,"y":39},{"s":"71-95","x":0.0093,"y":46},{"s":"71-95","x":0.0138,"y":55},{"s":"71-95","x":0.0205,"y":68},{"s":"71-95","x":0.03,"y":83},{"s":"71-95","x":0.045,"y":94},{"s":"71-95","x":0.067,"y":100},
        {"s":"95-100","x":0.0013,"y":21},{"s":"95-100","x":0.0019,"y":24},{"s":"95-100","x":0.0029,"y":27},{"s":"95-100","x":0.0042,"y":31},{"s":"95-100","x":0.0063,"y":35},{"s":"95-100","x":0.0093,"y":41},{"s":"95-100","x":0.0138,"y":50},{"s":"95-100","x":0.0205,"y":63},{"s":"95-100","x":0.03,"y":80},{"s":"95-100","x":0.045,"y":93},{"s":"95-100","x":0.067,"y":100},{"s":"95-100","x":0.1,"y":100},{"s":"95-100","x":0.2,"y":100},{"s":"95-100","x":0.5,"y":100},{"s":"95-100","x":1,"y":100},{"s":"95-100","x":2,"y":100}
      ]},
      "encoding": {
        "x": {"field": "x", "type": "quantitative", "title": null, "scale": {"type": "log", "domain": [0.001, 10]},
          "axis": {"values": [0.001,0.002,0.003,0.004,0.005,0.006,0.007,0.008,0.009,0.01,0.02,0.03,0.04,0.05,0.06,0.07,0.08,0.09,0.1,0.2,0.3,0.4,0.5,0.6,0.7,0.8,0.9,1,2,3,4,5,6,7,8,9,10],
            "labelExpr": "abs(log(datum.value)/LN10-round(log(datum.value)/LN10))<0.01 ? '10' + ['⁻³','⁻²','⁻¹','⁰','¹'][round(log(datum.value)/LN10)+3] : ''",
            "gridColor": {"condition": {"test": "abs(log(datum.value)/LN10-round(log(datum.value)/LN10))<0.01", "value": "#cdcdcd"}, "value": "#e4e4e4"},
            "tickSize": {"condition": {"test": "abs(log(datum.value)/LN10-round(log(datum.value)/LN10))<0.01", "value": 3}, "value": 1.5}}},
        "y": {"field": "y", "type": "quantitative", "title": null, "scale": {"domain": [0, 100], "nice": false}, "axis": {"values": [0,20,40,60,80,100]}},
        "color": {"field": "s", "type": "nominal", "scale": {"domain": ["0-24","24-59","59-71","71-95","95-100"]}, "legend": {"title": null}}
      },
      "layer": [{"mark": "line"}, {"mark": "point"}]
    },
    {
      "title": "P12 (Lagoonal deposit)",
      "data": {"values": [
        {"s":"0-10","x":0.0013,"y":22},{"s":"0-10","x":0.0019,"y":25},{"s":"0-10","x":0.0029,"y":30},{"s":"0-10","x":0.0042,"y":35},{"s":"0-10","x":0.0063,"y":41},{"s":"0-10","x":0.0093,"y":48},{"s":"0-10","x":0.0138,"y":55},{"s":"0-10","x":0.0205,"y":68},{"s":"0-10","x":0.03,"y":86},{"s":"0-10","x":0.045,"y":96},{"s":"0-10","x":0.067,"y":100},
        {"s":"10-20","x":0.0013,"y":27},{"s":"10-20","x":0.0019,"y":30},{"s":"10-20","x":0.0029,"y":36},{"s":"10-20","x":0.0042,"y":42},{"s":"10-20","x":0.0063,"y":47},{"s":"10-20","x":0.0093,"y":53},{"s":"10-20","x":0.0138,"y":62},{"s":"10-20","x":0.0205,"y":76},{"s":"10-20","x":0.03,"y":90},{"s":"10-20","x":0.045,"y":97},{"s":"10-20","x":0.067,"y":100},
        {"s":"20-54","x":0.0013,"y":35},{"s":"20-54","x":0.0019,"y":40},{"s":"20-54","x":0.0029,"y":47},{"s":"20-54","x":0.0042,"y":54},{"s":"20-54","x":0.0063,"y":62},{"s":"20-54","x":0.0093,"y":70},{"s":"20-54","x":0.0138,"y":80},{"s":"20-54","x":0.0205,"y":88},{"s":"20-54","x":0.03,"y":95},{"s":"20-54","x":0.045,"y":99},{"s":"20-54","x":0.067,"y":100},
        {"s":"54-67","x":0.0013,"y":35},{"s":"54-67","x":0.0019,"y":42},{"s":"54-67","x":0.0029,"y":50},{"s":"54-67","x":0.0042,"y":57},{"s":"54-67","x":0.0063,"y":65},{"s":"54-67","x":0.0093,"y":74},{"s":"54-67","x":0.0138,"y":82},{"s":"54-67","x":0.0205,"y":90},{"s":"54-67","x":0.03,"y":95},{"s":"54-67","x":0.045,"y":99},{"s":"54-67","x":0.067,"y":100},
        {"s":"67-110","x":0.0013,"y":33},{"s":"67-110","x":0.0019,"y":39},{"s":"67-110","x":0.0029,"y":46},{"s":"67-110","x":0.0042,"y":54},{"s":"67-110","x":0.0063,"y":62},{"s":"67-110","x":0.0093,"y":71},{"s":"67-110","x":0.0138,"y":80},{"s":"67-110","x":0.0205,"y":89},{"s":"67-110","x":0.03,"y":95},{"s":"67-110","x":0.045,"y":99},{"s":"67-110","x":0.067,"y":100},
        {"s":"110-130","x":0.0013,"y":36},{"s":"110-130","x":0.0019,"y":41},{"s":"110-130","x":0.0029,"y":48},{"s":"110-130","x":0.0042,"y":56},{"s":"110-130","x":0.0063,"y":64},{"s":"110-130","x":0.0093,"y":73},{"s":"110-130","x":0.0138,"y":82},{"s":"110-130","x":0.0205,"y":91},{"s":"110-130","x":0.03,"y":96},{"s":"110-130","x":0.045,"y":99},{"s":"110-130","x":0.067,"y":100},{"s":"110-130","x":0.1,"y":100},{"s":"110-130","x":0.2,"y":100},{"s":"110-130","x":0.5,"y":100},{"s":"110-130","x":1,"y":100},{"s":"110-130","x":2,"y":100}
      ]},
      "encoding": {
        "x": {"field": "x", "type": "quantitative", "title": null, "scale": {"type": "log", "domain": [0.001, 10]},
          "axis": {"values": [0.001,0.002,0.003,0.004,0.005,0.006,0.007,0.008,0.009,0.01,0.02,0.03,0.04,0.05,0.06,0.07,0.08,0.09,0.1,0.2,0.3,0.4,0.5,0.6,0.7,0.8,0.9,1,2,3,4,5,6,7,8,9,10],
            "labelExpr": "abs(log(datum.value)/LN10-round(log(datum.value)/LN10))<0.01 ? '10' + ['⁻³','⁻²','⁻¹','⁰','¹'][round(log(datum.value)/LN10)+3] : ''",
            "gridColor": {"condition": {"test": "abs(log(datum.value)/LN10-round(log(datum.value)/LN10))<0.01", "value": "#cdcdcd"}, "value": "#e4e4e4"},
            "tickSize": {"condition": {"test": "abs(log(datum.value)/LN10-round(log(datum.value)/LN10))<0.01", "value": 3}, "value": 1.5}}},
        "y": {"field": "y", "type": "quantitative", "title": null, "scale": {"domain": [0, 100], "nice": false}, "axis": {"values": [0,20,40,60,80,100], "labels": false}},
        "color": {"field": "s", "type": "nominal", "scale": {"domain": ["0-10","10-20","20-54","54-67","67-110","110-130"]}, "legend": {"title": null}}
      },
      "layer": [{"mark": "line"}, {"mark": "point"}]
    },
    {
      "title": "P13 (Barrier flat)",
      "data": {"values": [
        {"s":"0-20","x":0.0013,"y":21},{"s":"0-20","x":0.0019,"y":25},{"s":"0-20","x":0.0029,"y":32},{"s":"0-20","x":0.0042,"y":42},{"s":"0-20","x":0.0063,"y":56},{"s":"0-20","x":0.0093,"y":67},{"s":"0-20","x":0.0138,"y":77},{"s":"0-20","x":0.0205,"y":84},{"s":"0-20","x":0.03,"y":89},{"s":"0-20","x":0.045,"y":95},{"s":"0-20","x":0.067,"y":100},
        {"s":"20-50","x":0.0013,"y":27},{"s":"20-50","x":0.0019,"y":31},{"s":"20-50","x":0.0029,"y":37},{"s":"20-50","x":0.0042,"y":47},{"s":"20-50","x":0.0063,"y":59},{"s":"20-50","x":0.0093,"y":71},{"s":"20-50","x":0.0138,"y":80},{"s":"20-50","x":0.0205,"y":87},{"s":"20-50","x":0.03,"y":92},{"s":"20-50","x":0.045,"y":97},{"s":"20-50","x":0.067,"y":100},
        {"s":"50-80","x":0.0013,"y":32},{"s":"50-80","x":0.0019,"y":35},{"s":"50-80","x":0.0029,"y":42},{"s":"50-80","x":0.0042,"y":57},{"s":"50-80","x":0.0063,"y":68},{"s":"50-80","x":0.0093,"y":81},{"s":"50-80","x":0.0138,"y":93},{"s":"50-80","x":0.0205,"y":100},{"s":"50-80","x":0.03,"y":100},{"s":"50-80","x":0.067,"y":100},{"s":"50-80","x":0.2,"y":100},{"s":"50-80","x":0.5,"y":100},{"s":"50-80","x":1,"y":100},{"s":"50-80","x":2,"y":100}
      ]},
      "encoding": {
        "x": {"field": "x", "type": "quantitative", "title": "Particle size (mm)", "scale": {"type": "log", "domain": [0.001, 10]},
          "axis": {"values": [0.001,0.002,0.003,0.004,0.005,0.006,0.007,0.008,0.009,0.01,0.02,0.03,0.04,0.05,0.06,0.07,0.08,0.09,0.1,0.2,0.3,0.4,0.5,0.6,0.7,0.8,0.9,1,2,3,4,5,6,7,8,9,10],
            "labelExpr": "abs(log(datum.value)/LN10-round(log(datum.value)/LN10))<0.01 ? '10' + ['⁻³','⁻²','⁻¹','⁰','¹'][round(log(datum.value)/LN10)+3] : ''",
            "titleX": 38, "titleAlign": "center", "titlePadding": -1,
            "gridColor": {"condition": {"test": "abs(log(datum.value)/LN10-round(log(datum.value)/LN10))<0.01", "value": "#cdcdcd"}, "value": "#e4e4e4"},
            "tickSize": {"condition": {"test": "abs(log(datum.value)/LN10-round(log(datum.value)/LN10))<0.01", "value": 3}, "value": 1.5}}},
        "y": {"field": "y", "type": "quantitative", "title": null, "scale": {"domain": [0, 100], "nice": false}, "axis": {"values": [0,20,40,60,80,100], "labels": false}},
        "color": {"field": "s", "type": "nominal", "scale": {"domain": ["0-20","20-50","50-80"]}, "legend": {"title": null}}
      },
      "layer": [{"mark": "line"}, {"mark": "point"}]
    },
    {
      "title": "P14 (Lagoon [relict])",
      "data": {"values": [
        {"s":"0-28","x":0.0013,"y":41},{"s":"0-28","x":0.0019,"y":46},{"s":"0-28","x":0.0029,"y":54},{"s":"0-28","x":0.0042,"y":62},{"s":"0-28","x":0.0063,"y":71},{"s":"0-28","x":0.0093,"y":79},{"s":"0-28","x":0.0138,"y":84},{"s":"0-28","x":0.0205,"y":89},{"s":"0-28","x":0.03,"y":94},{"s":"0-28","x":0.045,"y":99},{"s":"0-28","x":0.067,"y":100},
        {"s":"28-48","x":0.0013,"y":37},{"s":"28-48","x":0.0019,"y":42},{"s":"28-48","x":0.0029,"y":47},{"s":"28-48","x":0.0042,"y":53},{"s":"28-48","x":0.0063,"y":63},{"s":"28-48","x":0.0093,"y":74},{"s":"28-48","x":0.0138,"y":81},{"s":"28-48","x":0.0205,"y":88},{"s":"28-48","x":0.03,"y":94},{"s":"28-48","x":0.045,"y":98},{"s":"28-48","x":0.067,"y":100},
        {"s":"48-78","x":0.0013,"y":15},{"s":"48-78","x":0.0019,"y":17},{"s":"48-78","x":0.0029,"y":21},{"s":"48-78","x":0.0042,"y":24},{"s":"48-78","x":0.0063,"y":28},{"s":"48-78","x":0.0093,"y":32},{"s":"48-78","x":0.0138,"y":42},{"s":"48-78","x":0.0205,"y":52},{"s":"48-78","x":0.03,"y":65},{"s":"48-78","x":0.045,"y":83},{"s":"48-78","x":0.067,"y":96},{"s":"48-78","x":0.1,"y":100},
        {"s":"78-130","x":0.0013,"y":14},{"s":"78-130","x":0.0019,"y":16},{"s":"78-130","x":0.0029,"y":20},{"s":"78-130","x":0.0042,"y":24},{"s":"78-130","x":0.0063,"y":28},{"s":"78-130","x":0.0093,"y":32},{"s":"78-130","x":0.0138,"y":42},{"s":"78-130","x":0.0205,"y":53},{"s":"78-130","x":0.03,"y":68},{"s":"78-130","x":0.045,"y":86},{"s":"78-130","x":0.067,"y":97},{"s":"78-130","x":0.1,"y":100},{"s":"78-130","x":0.2,"y":100},{"s":"78-130","x":0.5,"y":100},{"s":"78-130","x":1,"y":100},{"s":"78-130","x":2,"y":100}
      ]},
      "encoding": {
        "x": {"field": "x", "type": "quantitative", "title": null, "scale": {"type": "log", "domain": [0.001, 10]},
          "axis": {"values": [0.001,0.002,0.003,0.004,0.005,0.006,0.007,0.008,0.009,0.01,0.02,0.03,0.04,0.05,0.06,0.07,0.08,0.09,0.1,0.2,0.3,0.4,0.5,0.6,0.7,0.8,0.9,1,2,3,4,5,6,7,8,9,10],
            "labelExpr": "abs(log(datum.value)/LN10-round(log(datum.value)/LN10))<0.01 ? '10' + ['⁻³','⁻²','⁻¹','⁰','¹'][round(log(datum.value)/LN10)+3] : ''",
            "gridColor": {"condition": {"test": "abs(log(datum.value)/LN10-round(log(datum.value)/LN10))<0.01", "value": "#cdcdcd"}, "value": "#e4e4e4"},
            "tickSize": {"condition": {"test": "abs(log(datum.value)/LN10-round(log(datum.value)/LN10))<0.01", "value": 3}, "value": 1.5}}},
        "y": {"field": "y", "type": "quantitative", "title": null, "scale": {"domain": [0, 100], "nice": false}, "axis": {"values": [0,20,40,60,80,100], "labels": false}},
        "color": {"field": "s", "type": "nominal", "scale": {"domain": ["0-28","28-48","48-78","78-130"]}, "legend": {"title": null}}
      },
      "layer": [{"mark": "line"}, {"mark": "point"}]
    },
    {
      "title": "P15 (Lagoon [relict])",
      "data": {"values": [
        {"s":"0-18","x":0.0013,"y":25},{"s":"0-18","x":0.0019,"y":28},{"s":"0-18","x":0.0029,"y":33},{"s":"0-18","x":0.0042,"y":38},{"s":"0-18","x":0.0063,"y":43},{"s":"0-18","x":0.0093,"y":47},{"s":"0-18","x":0.0138,"y":53},{"s":"0-18","x":0.0205,"y":63},{"s":"0-18","x":0.03,"y":80},{"s":"0-18","x":0.045,"y":95},{"s":"0-18","x":0.067,"y":100},
        {"s":"18-40","x":0.0013,"y":21},{"s":"18-40","x":0.0019,"y":24},{"s":"18-40","x":0.0029,"y":28},{"s":"18-40","x":0.0042,"y":33},{"s":"18-40","x":0.0063,"y":38},{"s":"18-40","x":0.0093,"y":43},{"s":"18-40","x":0.0138,"y":50},{"s":"18-40","x":0.0205,"y":60},{"s":"18-40","x":0.03,"y":78},{"s":"18-40","x":0.045,"y":94},{"s":"18-40","x":0.067,"y":100},
        {"s":"40-60","x":0.0013,"y":18},{"s":"40-60","x":0.0019,"y":19},{"s":"40-60","x":0.0029,"y":22},{"s":"40-60","x":0.0042,"y":26},{"s":"40-60","x":0.0063,"y":31},{"s":"40-60","x":0.0093,"y":36},{"s":"40-60","x":0.0138,"y":42},{"s":"40-60","x":0.0205,"y":52},{"s":"40-60","x":0.03,"y":72},{"s":"40-60","x":0.045,"y":92},{"s":"40-60","x":0.067,"y":99},{"s":"40-60","x":0.1,"y":100},
        {"s":"60-90","x":0.0013,"y":19},{"s":"60-90","x":0.0019,"y":21},{"s":"60-90","x":0.0029,"y":24},{"s":"60-90","x":0.0042,"y":27},{"s":"60-90","x":0.0063,"y":31},{"s":"60-90","x":0.0093,"y":36},{"s":"60-90","x":0.0138,"y":43},{"s":"60-90","x":0.0205,"y":56},{"s":"60-90","x":0.03,"y":78},{"s":"60-90","x":0.045,"y":94},{"s":"60-90","x":0.067,"y":99},{"s":"60-90","x":0.1,"y":100},{"s":"60-90","x":0.2,"y":100},{"s":"60-90","x":0.5,"y":100},{"s":"60-90","x":1,"y":100},{"s":"60-90","x":2,"y":100}
      ]},
      "encoding": {
        "x": {"field": "x", "type": "quantitative", "title": null, "scale": {"type": "log", "domain": [0.001, 10]},
          "axis": {"values": [0.001,0.002,0.003,0.004,0.005,0.006,0.007,0.008,0.009,0.01,0.02,0.03,0.04,0.05,0.06,0.07,0.08,0.09,0.1,0.2,0.3,0.4,0.5,0.6,0.7,0.8,0.9,1,2,3,4,5,6,7,8,9,10],
            "labelExpr": "abs(log(datum.value)/LN10-round(log(datum.value)/LN10))<0.01 ? '10' + ['⁻³','⁻²','⁻¹','⁰','¹'][round(log(datum.value)/LN10)+3] : ''",
            "gridColor": {"condition": {"test": "abs(log(datum.value)/LN10-round(log(datum.value)/LN10))<0.01", "value": "#cdcdcd"}, "value": "#e4e4e4"},
            "tickSize": {"condition": {"test": "abs(log(datum.value)/LN10-round(log(datum.value)/LN10))<0.01", "value": 3}, "value": 1.5}}},
        "y": {"field": "y", "type": "quantitative", "title": null, "scale": {"domain": [0, 100], "nice": false}, "axis": {"values": [0,20,40,60,80,100], "labels": false}},
        "color": {"field": "s", "type": "nominal", "scale": {"domain": ["0-18","18-40","40-60","60-90"]}, "legend": {"title": null}}
      },
      "layer": [{"mark": "line"}, {"mark": "point"}]
    }
  ],
  "config": {
    "view": {"continuousWidth": 114, "continuousHeight": 102, "stroke": "#444", "strokeWidth": 0.8},
    "range": {"category": ["#1f77b4","#ff7f0e","#2ca02c","#d62728","#9467bd","#8c564b","#e377c2"]},
    "line": {"strokeWidth": 1.2},
    "point": {"filled": true, "size": 16, "opacity": 1},
    "title": {"font": "Liberation Serif", "fontSize": 10, "fontWeight": "normal", "color": "#222", "offset": 3},
    "axis": {
      "domain": false, "gridColor": "#dcdcdc", "gridWidth": 0.7, "tickColor": "#444", "tickSize": 3, "tickWidth": 0.7,
      "labelFont": "Liberation Serif", "labelFontSize": 8, "labelColor": "#222", "labelPadding": 1.5,
      "labelFlush": false, "labelOverlap": false,
      "titleFont": "Liberation Serif", "titleFontSize": 9.5, "titleFontWeight": "normal", "titleColor": "#222"
    },
    "legend": {
      "orient": "bottom-right", "offset": 3, "padding": 2, "rowPadding": -1.5,
      "labelFont": "Liberation Serif", "labelFontSize": 7, "labelColor": "#222", "labelOffset": 9,
      "symbolType": "M-2.0,0L2.0,0M-0.71,0A0.71,0.71,0,1,1,0.71,0A0.71,0.71,0,1,1,-0.71,0",
      "symbolSize": 42, "symbolStrokeWidth": 1.2, "symbolOffset": 3.5,
      "fillColor": "rgba(255,255,255,0.85)", "strokeColor": "#cccccc", "cornerRadius": 2
    }
  }
}
